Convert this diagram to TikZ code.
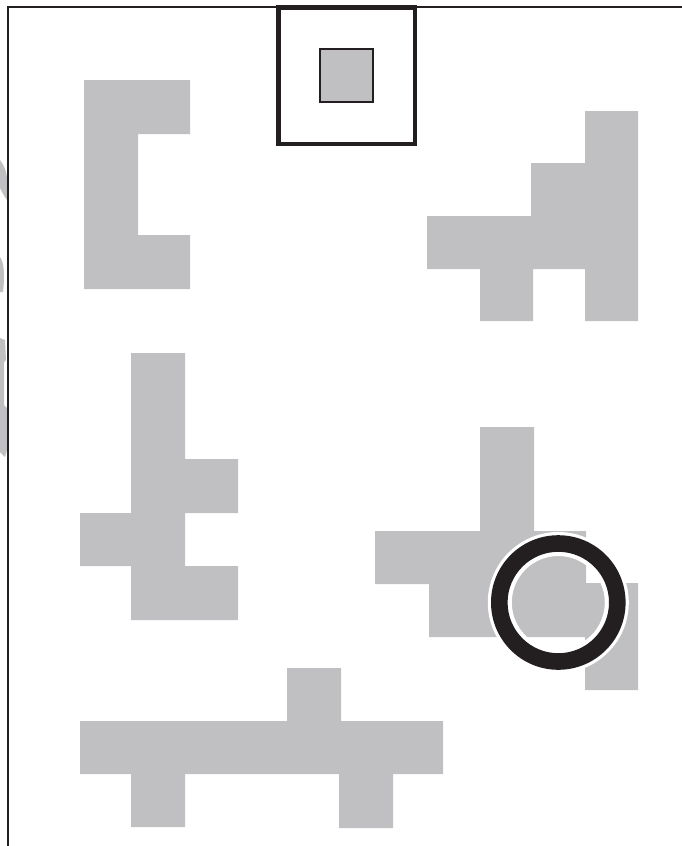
\documentclass[tikz,border=0pt]{standalone}
\begin{document}
\begin{tikzpicture}[x=1pt,y=-1pt]
\definecolor{greyfill}{RGB}{192,192,194}
\definecolor{ink}{RGB}{35,31,32}
\tikzset{piece/.style={fill=greyfill}}
\useasboundingbox (0,0) rectangle (682,846);
\fill[white] (0,0) rectangle (682,846);
% fragments outside the frame
\fill[piece] (0,160) .. controls (4,165) and (7,172) .. (7,180) -- (7,200) .. controls (4,196) and (2,192) .. (0,188) -- cycle;
\fill[piece] (0,257) .. controls (4,262) and (5,275) .. (3,292) -- (0,292) -- cycle;
\fill[piece] (0,338) -- (5,340) -- (6,360) -- (4,362) -- (4,405) -- (7,408) -- (7,450) -- (5,457) -- (0,452) -- cycle;
% frame
\draw[ink,line width=2] (8,846) -- (8,7) -- (682,7);
% top-left bracket
\fill[piece] (84,80) -- (190,80) -- (190,134) -- (138,134) -- (138,235) -- (190,235) -- (190,289) -- (84,289) -- cycle;
% top box
\draw[ink,line width=4.5] (278.5,7.5) rectangle (415,144);
\draw[ink,line width=1.2,fill=greyfill] (320,49) rectangle (373,102);
% top-right shape
\fill[piece] (585,111) -- (638,111) -- (638,321) -- (585,321) -- (585,269) -- (533,269) -- (533,321) -- (480,321) -- (480,269) -- (427,269) -- (427,216) -- (531,216) -- (531,163) -- (585,163) -- cycle;
% middle-left shape
\fill[piece] (131,353) -- (185,353) -- (185,459) -- (238,459) -- (238,513) -- (185,513) -- (185,566) -- (238,566) -- (238,620) -- (131,620) -- (131,566) -- (80,566) -- (80,513) -- (131,513) -- cycle;
% middle-right shape
\fill[piece] (480,427) -- (534,427) -- (534,531) -- (586,531) -- (586,583) -- (638,583) -- (638,690) -- (585,690) -- (585,637) -- (429,637) -- (429,584) -- (375,584) -- (375,531) -- (480,531) -- cycle;
% ring (transparent centre)
\coordinate (rc) at (558.3,602.5);
\fill[white,even odd rule] (rc) circle[radius=70.5] (rc) circle[radius=46.5];
\fill[ink,even odd rule] (rc) circle[radius=67.3] (rc) circle[radius=50.7];
% bottom shape
\fill[piece] (287,668) -- (341,668) -- (341,721) -- (443,721) -- (443,774) -- (393,774) -- (393,828) -- (339,828) -- (339,774) -- (185,774) -- (185,827) -- (131,827) -- (131,774) -- (80,774) -- (80,721) -- (287,721) -- cycle;
\end{tikzpicture}
\end{document}
